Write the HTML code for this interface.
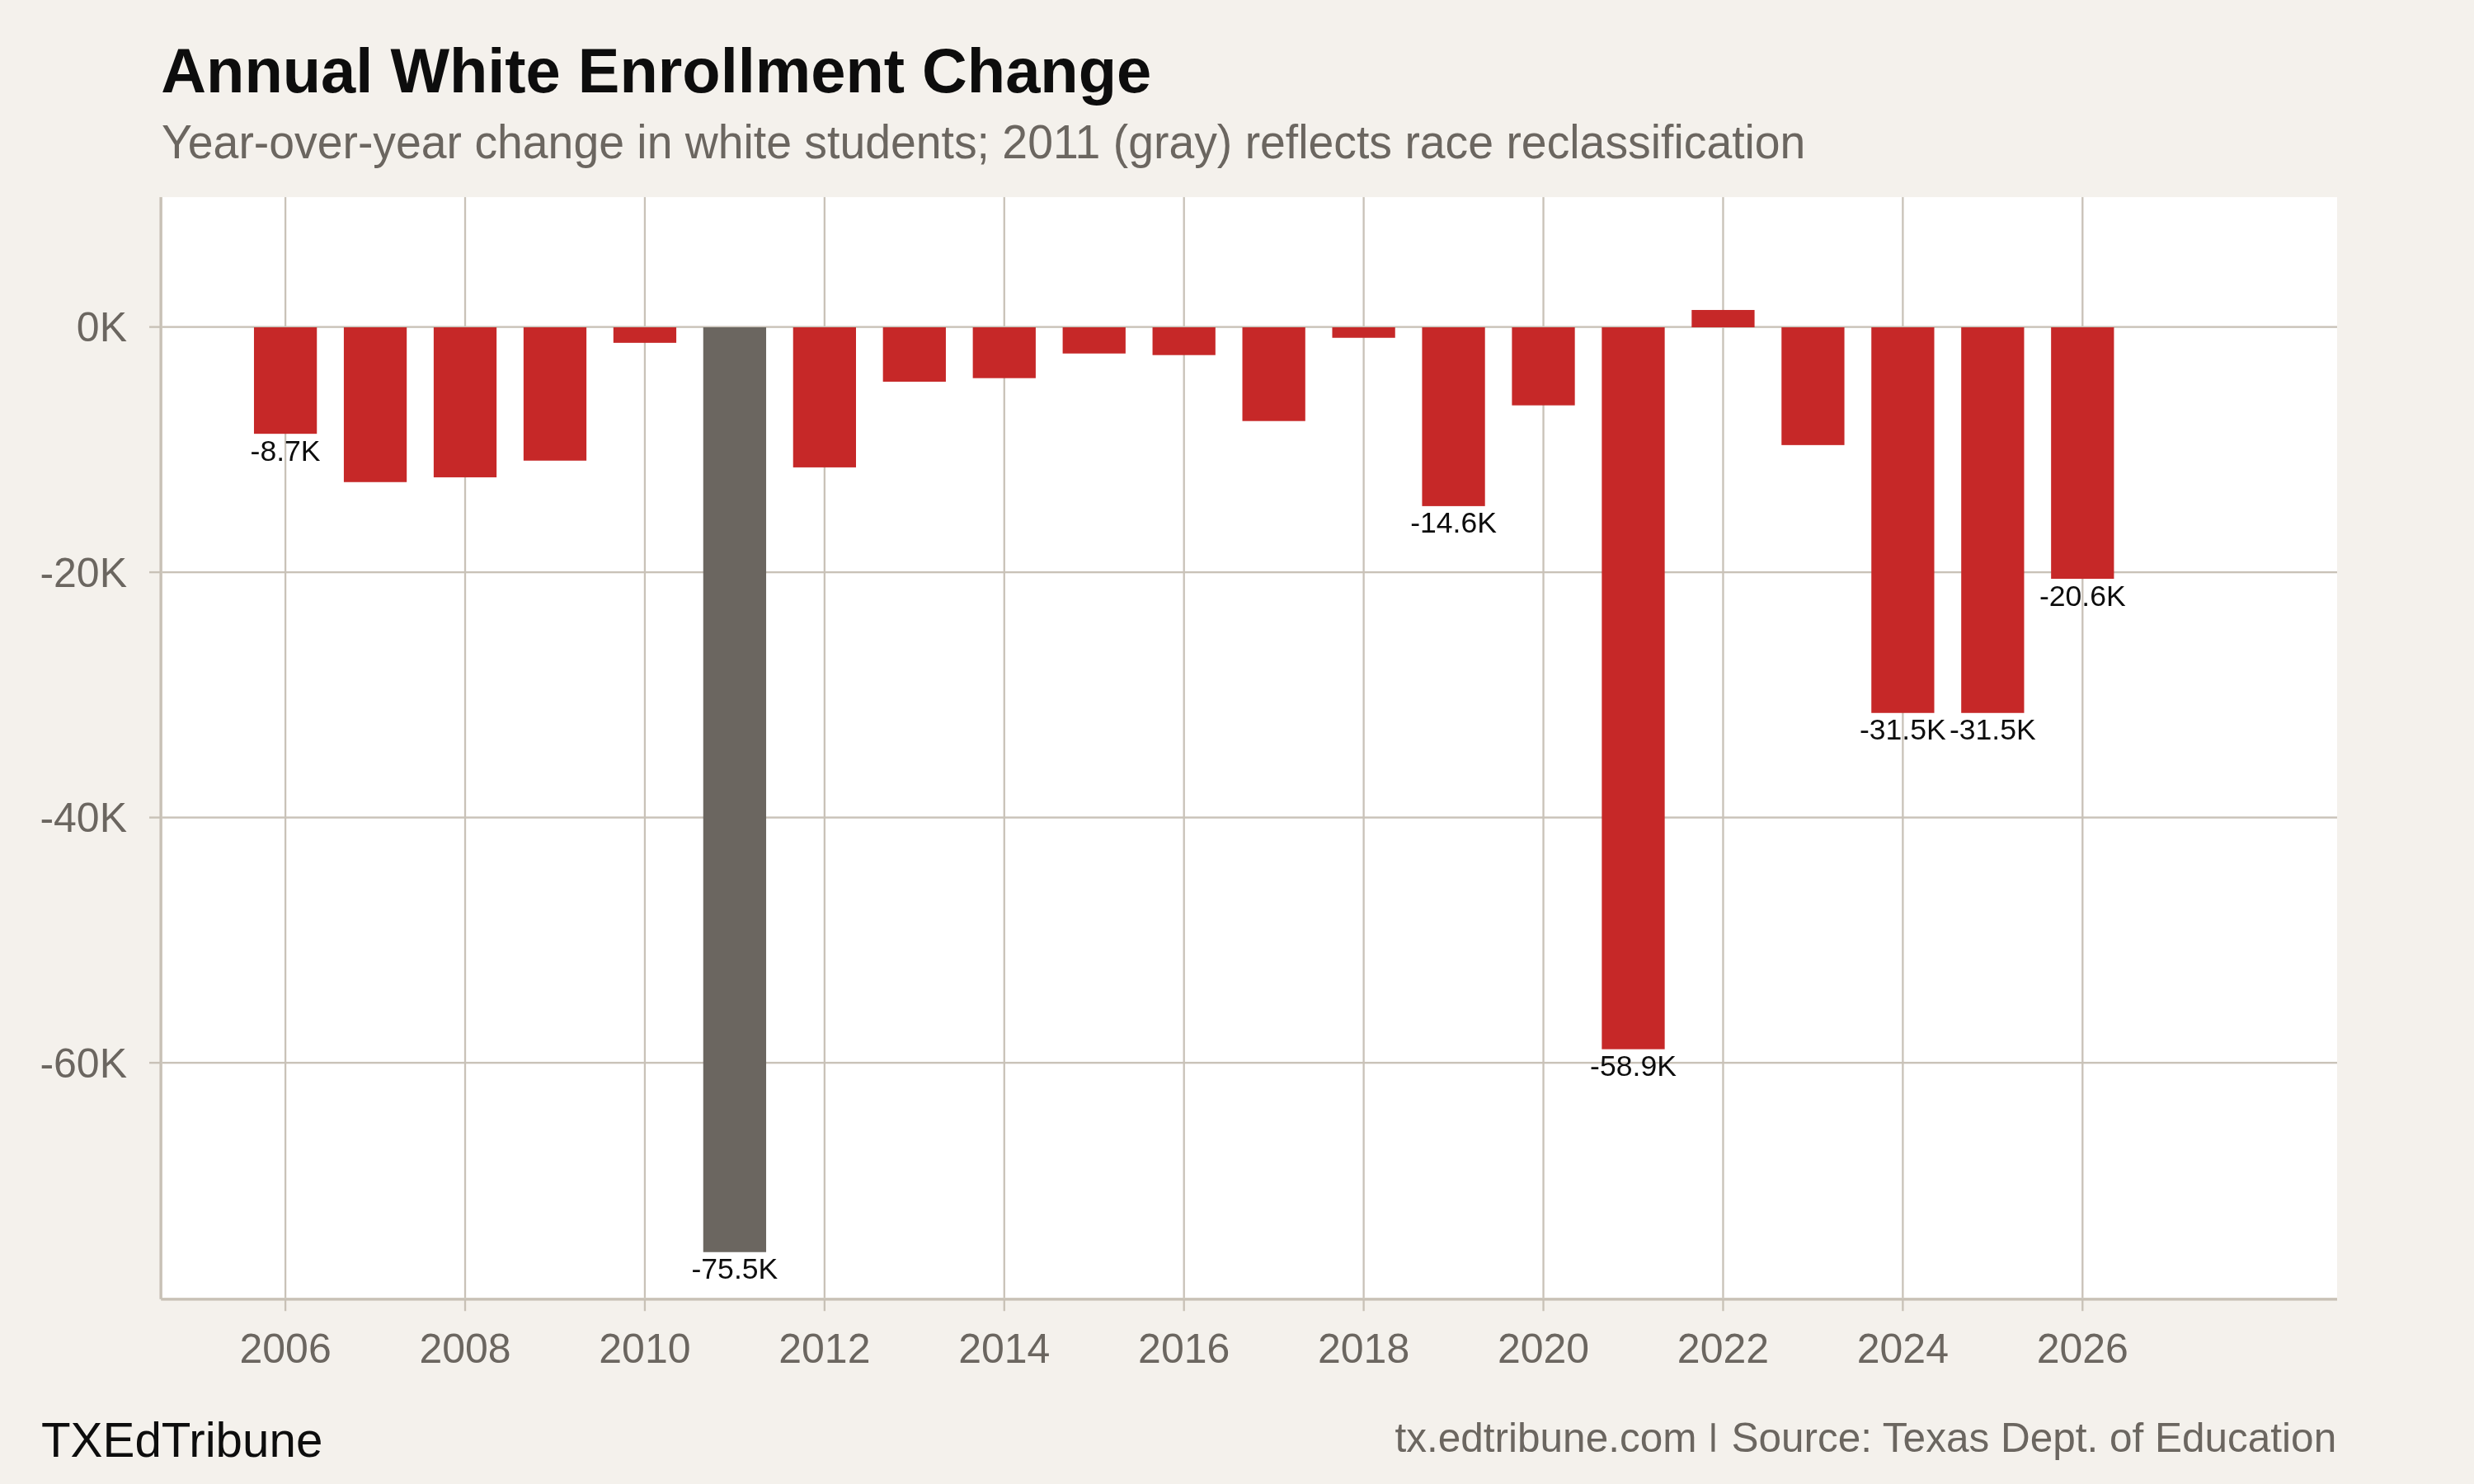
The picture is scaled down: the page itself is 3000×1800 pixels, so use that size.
<!DOCTYPE html>
<html><head><meta charset="utf-8"><title>Annual White Enrollment Change</title>
<style>
html,body{margin:0;padding:0;background:#F4F1EC;}
svg{display:block;will-change:transform;}
text{font-family:"Liberation Sans",sans-serif;}
</style></head>
<body>
<svg width="3000" height="1800" viewBox="0 0 3000 1800">
<rect x="0" y="0" width="3000" height="1800" fill="#F4F1EC"/>
<rect x="196.8" y="239.1" width="2637.2" height="1335.1000000000001" fill="#FFFFFF"/>
<rect x="344.95" y="239.1" width="2.3" height="1335.10" fill="#C9C2B8"/>
<rect x="562.87" y="239.1" width="2.3" height="1335.10" fill="#C9C2B8"/>
<rect x="780.79" y="239.1" width="2.3" height="1335.10" fill="#C9C2B8"/>
<rect x="998.71" y="239.1" width="2.3" height="1335.10" fill="#C9C2B8"/>
<rect x="1216.63" y="239.1" width="2.3" height="1335.10" fill="#C9C2B8"/>
<rect x="1434.55" y="239.1" width="2.3" height="1335.10" fill="#C9C2B8"/>
<rect x="1652.47" y="239.1" width="2.3" height="1335.10" fill="#C9C2B8"/>
<rect x="1870.39" y="239.1" width="2.3" height="1335.10" fill="#C9C2B8"/>
<rect x="2088.31" y="239.1" width="2.3" height="1335.10" fill="#C9C2B8"/>
<rect x="2306.23" y="239.1" width="2.3" height="1335.10" fill="#C9C2B8"/>
<rect x="2524.15" y="239.1" width="2.3" height="1335.10" fill="#C9C2B8"/>
<rect x="196.8" y="395.40" width="2637.20" height="2.4" fill="#C9C2B8"/>
<rect x="196.8" y="692.90" width="2637.20" height="2.4" fill="#C9C2B8"/>
<rect x="196.8" y="990.40" width="2637.20" height="2.4" fill="#C9C2B8"/>
<rect x="196.8" y="1287.90" width="2637.20" height="2.4" fill="#C9C2B8"/>
<rect x="307.97" y="397.00" width="76.27" height="129.17" fill="#C62828"/>
<rect x="416.93" y="397.00" width="76.27" height="187.76" fill="#C62828"/>
<rect x="525.88" y="397.00" width="76.27" height="181.96" fill="#C62828"/>
<rect x="634.85" y="397.00" width="76.27" height="161.73" fill="#C62828"/>
<rect x="743.81" y="397.00" width="76.27" height="18.83" fill="#C62828"/>
<rect x="852.76" y="397.00" width="76.27" height="1121.74" fill="#6B6660"/>
<rect x="961.73" y="397.00" width="76.27" height="169.91" fill="#C62828"/>
<rect x="1070.68" y="397.00" width="76.27" height="65.97" fill="#C62828"/>
<rect x="1179.64" y="397.00" width="76.27" height="61.66" fill="#C62828"/>
<rect x="1288.61" y="397.00" width="76.27" height="31.77" fill="#C62828"/>
<rect x="1397.56" y="397.00" width="76.27" height="33.70" fill="#C62828"/>
<rect x="1506.52" y="397.00" width="76.27" height="113.70" fill="#C62828"/>
<rect x="1615.48" y="397.00" width="76.27" height="12.74" fill="#C62828"/>
<rect x="1724.44" y="397.00" width="76.27" height="216.90" fill="#C62828"/>
<rect x="1833.40" y="397.00" width="76.27" height="94.67" fill="#C62828"/>
<rect x="1942.37" y="397.00" width="76.27" height="875.64" fill="#C62828"/>
<rect x="2051.32" y="375.98" width="76.27" height="21.02" fill="#C62828"/>
<rect x="2160.28" y="397.00" width="76.27" height="142.85" fill="#C62828"/>
<rect x="2269.24" y="397.00" width="76.27" height="467.76" fill="#C62828"/>
<rect x="2378.20" y="397.00" width="76.27" height="467.76" fill="#C62828"/>
<rect x="2487.16" y="397.00" width="76.27" height="305.08" fill="#C62828"/>
<rect x="193.4" y="239.1" width="3.4" height="1336.70" fill="#C8C1B6"/>
<rect x="195.2" y="1574.2" width="2638.80" height="3.4" fill="#C8C1B6"/>
<rect x="181" y="395.40" width="13" height="2.4" fill="#C8C1B6"/>
<rect x="181" y="692.90" width="13" height="2.4" fill="#C8C1B6"/>
<rect x="181" y="990.40" width="13" height="2.4" fill="#C8C1B6"/>
<rect x="181" y="1287.90" width="13" height="2.4" fill="#C8C1B6"/>
<rect x="344.95" y="1577" width="2.3" height="13.2" fill="#C8C1B6"/>
<rect x="562.87" y="1577" width="2.3" height="13.2" fill="#C8C1B6"/>
<rect x="780.79" y="1577" width="2.3" height="13.2" fill="#C8C1B6"/>
<rect x="998.71" y="1577" width="2.3" height="13.2" fill="#C8C1B6"/>
<rect x="1216.63" y="1577" width="2.3" height="13.2" fill="#C8C1B6"/>
<rect x="1434.55" y="1577" width="2.3" height="13.2" fill="#C8C1B6"/>
<rect x="1652.47" y="1577" width="2.3" height="13.2" fill="#C8C1B6"/>
<rect x="1870.39" y="1577" width="2.3" height="13.2" fill="#C8C1B6"/>
<rect x="2088.31" y="1577" width="2.3" height="13.2" fill="#C8C1B6"/>
<rect x="2306.23" y="1577" width="2.3" height="13.2" fill="#C8C1B6"/>
<rect x="2524.15" y="1577" width="2.3" height="13.2" fill="#C8C1B6"/>
<text x="346.10" y="558.67" font-size="35.6" text-anchor="middle" fill="#0D0D0D">-8.7K</text>
<text x="890.90" y="1551.24" font-size="35.6" text-anchor="middle" fill="#0D0D0D">-75.5K</text>
<text x="1762.58" y="646.40" font-size="35.6" text-anchor="middle" fill="#0D0D0D">-14.6K</text>
<text x="1980.50" y="1305.14" font-size="35.6" text-anchor="middle" fill="#0D0D0D">-58.9K</text>
<text x="2307.38" y="897.26" font-size="35.6" text-anchor="middle" fill="#0D0D0D">-31.5K</text>
<text x="2416.34" y="897.26" font-size="35.6" text-anchor="middle" fill="#0D0D0D">-31.5K</text>
<text x="2525.30" y="734.58" font-size="35.6" text-anchor="middle" fill="#0D0D0D">-20.6K</text>
<text x="154" y="414.20" font-size="50" text-anchor="end" fill="#6B6660">0K</text>
<text x="154" y="711.70" font-size="50" text-anchor="end" fill="#6B6660">-20K</text>
<text x="154" y="1009.20" font-size="50" text-anchor="end" fill="#6B6660">-40K</text>
<text x="154" y="1306.70" font-size="50" text-anchor="end" fill="#6B6660">-60K</text>
<text x="346.10" y="1652.9" font-size="50" text-anchor="middle" fill="#6B6660">2006</text>
<text x="564.02" y="1652.9" font-size="50" text-anchor="middle" fill="#6B6660">2008</text>
<text x="781.94" y="1652.9" font-size="50" text-anchor="middle" fill="#6B6660">2010</text>
<text x="999.86" y="1652.9" font-size="50" text-anchor="middle" fill="#6B6660">2012</text>
<text x="1217.78" y="1652.9" font-size="50" text-anchor="middle" fill="#6B6660">2014</text>
<text x="1435.70" y="1652.9" font-size="50" text-anchor="middle" fill="#6B6660">2016</text>
<text x="1653.62" y="1652.9" font-size="50" text-anchor="middle" fill="#6B6660">2018</text>
<text x="1871.54" y="1652.9" font-size="50" text-anchor="middle" fill="#6B6660">2020</text>
<text x="2089.46" y="1652.9" font-size="50" text-anchor="middle" fill="#6B6660">2022</text>
<text x="2307.38" y="1652.9" font-size="50" text-anchor="middle" fill="#6B6660">2024</text>
<text x="2525.30" y="1652.9" font-size="50" text-anchor="middle" fill="#6B6660">2026</text>
<text x="195.3" y="112" font-size="75.85" font-weight="bold" fill="#0D0D0D">Annual White Enrollment Change</text>
<text transform="translate(196,191.8) scale(0.9712,1)" font-size="57" fill="#6B6660">Year-over-year change in white students; 2011 (gray) reflects race reclassification</text>
<text x="50" y="1766.8" font-size="58.3" fill="#0D0D0D">TXEdTribune</text>
<text x="2833.2" y="1761.1" font-size="49.5" text-anchor="end" fill="#6B6660">Source: Texas Dept. of Education</text>
<text x="1691.5" y="1761.1" font-size="49.5" fill="#6B6660">tx.edtribune.com</text>
<rect x="2075.4" y="1726.2" width="4" height="34.6" fill="#6B6660"/>
</svg>
</body></html>
